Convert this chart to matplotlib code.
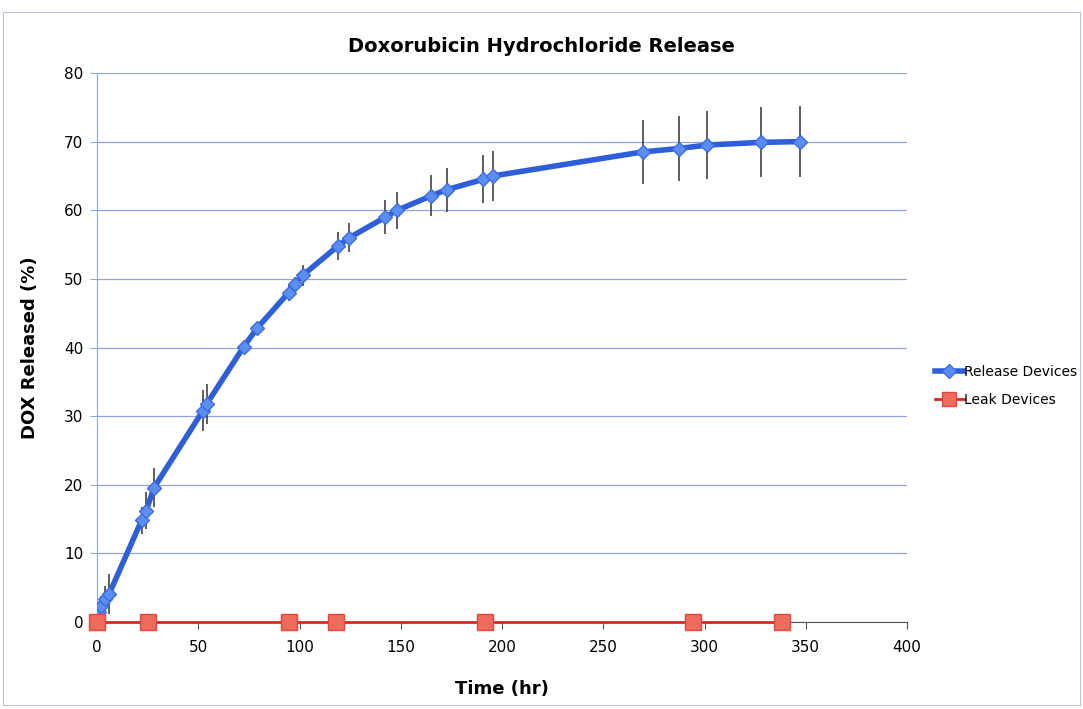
import matplotlib
matplotlib.use("Agg")
import matplotlib.pyplot as plt
from matplotlib.patches import Rectangle

# release devices: time (hr), % released, error
rel_t = [1, 2, 4, 6, 22, 24.2, 28.2, 52.3, 54.2, 72.4, 79, 94.6, 97.6, 101.5,
         119, 124.6, 142.4, 148.2, 165, 172.6, 190.7, 195.5, 269.4, 287.2,
         301.2, 327.9, 347.2]
rel_y = [1.5, 2.3, 3.3, 4.1, 14.8, 16.2, 19.6, 30.8, 31.8, 40.1, 42.8, 48.0,
         49.2, 50.5, 54.8, 56.0, 59.0, 60.0, 62.1, 63.0, 64.5, 65.0, 68.5,
         69.0, 69.5, 69.9, 70.0]
rel_err = [1.0, 1.5, 2.0, 2.9, 2.0, 2.7, 2.9, 3.0, 2.9, 0.8, 0.8, 1.2, 1.1,
           1.5, 2.0, 2.1, 2.5, 2.7, 3.0, 3.2, 3.5, 3.7, 4.6, 4.7, 5.0, 5.1, 5.2]

# leak devices
leak_t = [0, 25.2, 95, 118.2, 191.4, 294.3, 338.3]
leak_y = [0, 0, 0, 0, 0, 0, 0]

plt.rcParams['font.family'] = ['DejaVu Sans']

fig = plt.figure(figsize=(10.83, 7.09), dpi=100)
ax = fig.add_axes([0.0896, 0.1227, 0.7479, 0.7743])

fig.patches.append(Rectangle((0.003, 0.005), 0.994, 0.978, transform=fig.transFigure,
                             fill=False, edgecolor='#b8c4d8', lw=0.8))

ax.errorbar(rel_t, rel_y, yerr=rel_err, fmt='none', ecolor='#333333', elinewidth=1.1, zorder=2)
ax.plot(rel_t, rel_y, color='#2f5fd8', lw=4, marker='D', markersize=7.5,
        markerfacecolor='#5b8ef0', markeredgecolor='#3d6be0', label='Release Devices', zorder=3)
ax.plot(leak_t, leak_y, color='#d62a1e', lw=2, marker='s', markersize=11,
        markerfacecolor='#f06a5e', markeredgecolor='#e04a3e', label='Leak Devices', zorder=4,
        clip_on=False)

ax.set_xlim(0, 400)
ax.set_ylim(0, 80)
ax.set_xticks(range(0, 401, 50))
ax.set_yticks(range(0, 81, 10))
ax.yaxis.grid(True, color='#8fa6dc', lw=0.9)
ax.set_axisbelow(True)
for s in ['top', 'right']:
    ax.spines[s].set_visible(False)
ax.spines['left'].set_color('#8fa6dc')
ax.spines['bottom'].set_color('#555555')
ax.tick_params(axis='x', length=5, color='#555555', labelsize=11, pad=8)
ax.tick_params(axis='y', length=5, color='#8fa6dc', labelsize=11, pad=5)

fig.text(0.5, 0.935, 'Doxorubicin Hydrochloride Release', ha='center', va='center',
         fontsize=14, fontweight='bold')
ax.set_xlabel('Time (hr)', fontsize=13, fontweight='bold', labelpad=18)
ax.set_ylabel('DOX Released (%)', fontsize=13, fontweight='bold', labelpad=18)

ax.legend(loc='center left', bbox_to_anchor=(1.034, 0.43), frameon=False, fontsize=10,
          handlelength=2.1, handletextpad=0.0, borderaxespad=0, borderpad=0,
          labelspacing=1.05, markerscale=0.9)

fig.savefig('out.png', dpi=100)
